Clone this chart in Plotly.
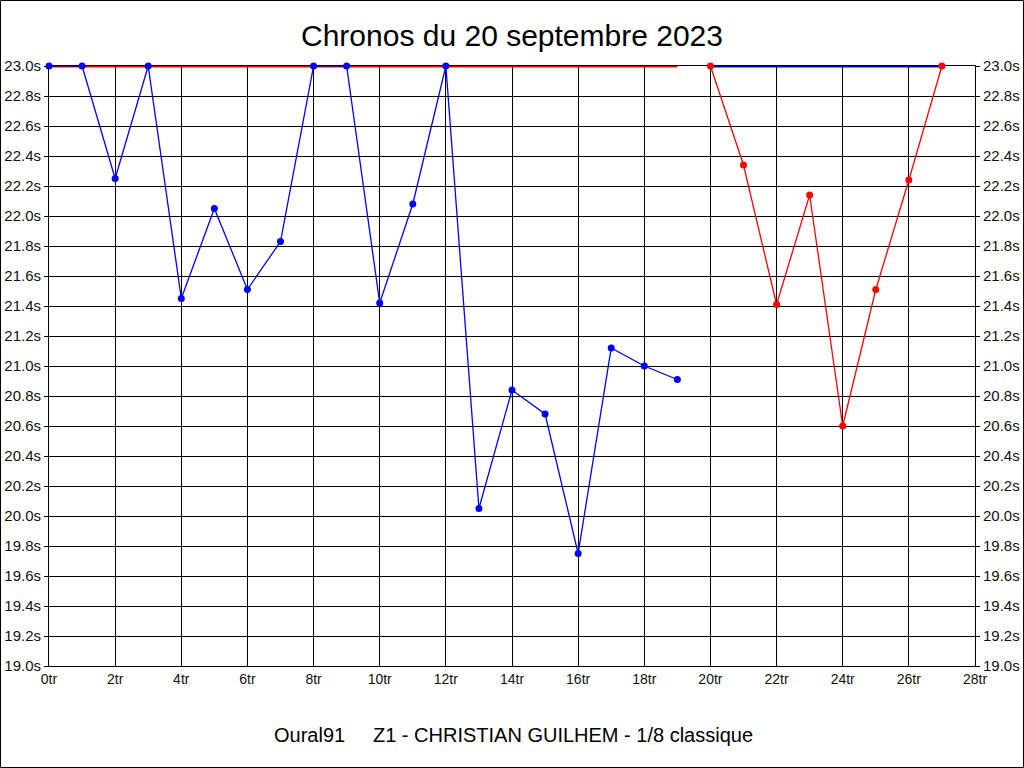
import plotly.graph_objects as go

# ===== Données =====
tours_bleu = list(range(0, 20))
chronos_bleu = [23.0, 23.0, 22.25, 23.0, 21.45, 22.05, 21.51, 21.83, 23.0, 23.0,
                21.42, 22.08, 23.0, 20.05, 20.84, 20.68, 19.75, 21.12, 21.0, 20.91]

tours_rouge = list(range(20, 28))
chronos_rouge = [23.0, 22.34, 21.41, 22.14, 20.6, 21.51, 22.24, 23.0]

plafond = 23.0
titre = "Chronos du 20 septembre 2023"
pied = "Oural91\u00a0\u00a0\u00a0\u00a0\u00a0Z1 - CHRISTIAN GUILHEM - 1/8 classique"

BLEU = "#0000FF"
ROUGE = "#FF0000"
POLICE = "Liberation Sans, Arial"

fig = go.Figure()

# ===== Lignes plafond =====
fig.add_trace(go.Scatter(
    x=[tours_bleu[0], tours_bleu[-1]], y=[plafond, plafond],
    mode="lines", line=dict(color=ROUGE, width=3), hoverinfo="skip", cliponaxis=False
))
fig.add_trace(go.Scatter(
    x=[tours_rouge[0], tours_rouge[-1]], y=[plafond, plafond],
    mode="lines", line=dict(color=BLEU, width=3), hoverinfo="skip", cliponaxis=False
))

# ===== Séries =====
fig.add_trace(go.Scatter(
    x=tours_bleu, y=chronos_bleu, mode="lines+markers", cliponaxis=False,
    line=dict(color=BLEU, width=1.3), marker=dict(color=BLEU, size=7)
))
fig.add_trace(go.Scatter(
    x=tours_rouge, y=chronos_rouge, mode="lines+markers", yaxis="y2", cliponaxis=False,
    line=dict(color=ROUGE, width=1.3), marker=dict(color=ROUGE, size=7)
))

axe_y = dict(
    range=[19.0, 23.0], dtick=0.2, tickformat=".1f", ticksuffix="s",
    showline=True, linecolor="black", linewidth=1, mirror=True,
    ticks="outside", ticklen=4, tickcolor="black",
    tickfont=dict(family=POLICE, size=15, color="#111"),
    zeroline=False, fixedrange=True, automargin=False, layer="below traces"
)

fig.update_layout(
    width=1024, height=768,
    paper_bgcolor="white", plot_bgcolor="white",
    showlegend=False,
    margin=dict(l=49, r=49, t=66, b=102),
    title=dict(text=titre, x=0.5, xanchor="center", y=1 - 35 / 768, yanchor="middle",
               font=dict(family=POLICE, size=30, color="black")),
    xaxis=dict(
        range=[0, 28], dtick=2, ticksuffix="tr",
        showgrid=True, gridcolor="black", gridwidth=1,
        showline=True, linecolor="black", linewidth=1, mirror=True,
        ticks="", tickfont=dict(family=POLICE, size=14, color="#111"),
        zeroline=False, fixedrange=True, automargin=False, layer="below traces"
    ),
    yaxis=dict(**axe_y, showgrid=True, gridcolor="black", gridwidth=1, side="left"),
    yaxis2=dict(**axe_y, showgrid=False, overlaying="y", side="right"),
    annotations=[dict(
        text=pied, xref="paper", yref="paper", x=(513 - 49) / 926, y=-(735 - 666) / 600,
        xanchor="center", yanchor="middle", showarrow=False,
        font=dict(family=POLICE, size=20, color="black")
    )],
    shapes=[dict(
        type="rect", xref="paper", yref="paper", layer="below",
        x0=-48.5 / 926, x1=(1023.5 - 49) / 926, y0=-(767.5 - 666) / 600, y1=1 + 65.5 / 600,
        line=dict(color="black", width=1)
    )]
)

fig.write_html("out.html", config={"displayModeBar": False},
               post_script="document.body.style.margin='0';")
